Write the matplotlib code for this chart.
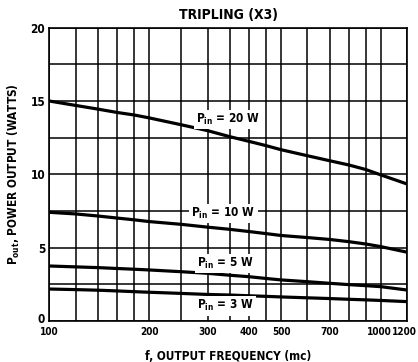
import matplotlib
matplotlib.use("Agg")
import matplotlib.pyplot as plt
import matplotlib.transforms as mtransforms
from matplotlib.ticker import FixedLocator, NullLocator, NullFormatter

plt.rcParams['font.family'] = ['DejaVu Sans']
plt.rcParams['font.stretch'] = 'condensed'
plt.rcParams['font.weight'] = 'bold'
plt.rcParams['axes.titleweight'] = 'bold'
plt.rcParams['axes.labelweight'] = 'bold'
plt.rcParams['mathtext.default'] = 'regular'

freq = [100, 120, 140, 160, 180, 200, 250, 300, 350, 400, 450, 500, 600, 700, 800, 900, 1000, 1200]
p20 = [15.0, 14.7, 14.45, 14.22, 14.05, 13.85, 13.38, 12.98, 12.57, 12.25, 11.96, 11.68, 11.27, 10.93, 10.64, 10.33, 9.96, 9.34]
p10 = [7.41, 7.3, 7.16, 7.02, 6.9, 6.78, 6.59, 6.4, 6.25, 6.1, 5.96, 5.83, 5.69, 5.56, 5.41, 5.25, 5.07, 4.69]
p5 = [3.75, 3.69, 3.64, 3.58, 3.53, 3.48, 3.36, 3.25, 3.12, 3.02, 2.9, 2.8, 2.68, 2.57, 2.48, 2.41, 2.34, 2.11]
p3 = [2.18, 2.14, 2.1, 2.05, 2.0, 1.96, 1.88, 1.81, 1.77, 1.72, 1.68, 1.64, 1.58, 1.53, 1.48, 1.44, 1.4, 1.32]

grid_x = [100, 120, 140, 160, 180, 200, 250, 300, 350, 400, 450, 500, 600, 700, 800, 900, 1000, 1200]
grid_y = [0, 2.5, 5, 7.5, 10, 12.5, 15, 17.5, 20]
xtick_vals = [100, 200, 300, 400, 500, 700, 1000, 1200]
xtick_labels = ['100', '200', '300', '400', '500', '700', '1000', '1200']
ytick_vals = [0, 5, 10, 15, 20]

labels = ['P$_{in}$ = 20 W', 'P$_{in}$ = 10 W', 'P$_{in}$ = 5 W', 'P$_{in}$ = 3 W']
label_pos = [(345, 13.75), (335, 7.35), (340, 3.9), (340, 1.03)]

fig = plt.figure(figsize=(4.18, 3.62), dpi=100)
ax = fig.add_axes([0.118, 0.1133, 0.856, 0.8102])
ax.set_xscale('log')
ax.set_xlim(100, 1200)
ax.set_ylim(0, 20)

for gx in grid_x:
    ax.axvline(gx, color='black', lw=1.1, zorder=1)
for gy in grid_y:
    ax.axhline(gy, color='black', lw=1.1, zorder=1)

for series in (p20, p10, p5, p3):
    ax.plot(freq, series, color='black', lw=2.3, zorder=3, solid_capstyle='butt')

for lab, (lx, ly) in zip(labels, label_pos):
    ax.text(lx, ly, lab, ha='center', va='center', fontsize=8.5, fontweight='bold',
            bbox=dict(facecolor='white', edgecolor='none', pad=1.5), zorder=4)

ax.xaxis.set_major_locator(FixedLocator(xtick_vals))
ax.set_xticklabels(xtick_labels)
ax.xaxis.set_minor_locator(NullLocator())
ax.xaxis.set_minor_formatter(NullFormatter())
ax.set_yticks(ytick_vals)
ax.tick_params(length=0, labelsize=8.5)
ax.tick_params(axis='x', pad=4, labelsize=7.2)
ax.tick_params(axis='y', pad=3)
for s in ax.spines.values():
    s.set_linewidth(1.2)

# nudge edge labels like the reference
xl = ax.get_xticklabels()
for lbl, dx in ((xl[-2], -2), (xl[-1], -3)):
    lbl.set_transform(lbl.get_transform() + mtransforms.ScaledTranslation(dx / 100, 0, fig.dpi_scale_trans))
ylab0 = ax.get_yticklabels()[0]
ylab0.set_transform(ylab0.get_transform() + mtransforms.ScaledTranslation(0, 3 / 100, fig.dpi_scale_trans))

ax.set_title('TRIPLING (X3)', fontsize=10, fontweight='bold', pad=6)
ax.set_xlabel('f, OUTPUT FREQUENCY (mc)', fontsize=8.5, fontweight='bold', labelpad=10)
ax.set_ylabel('P$_{out}$, POWER OUTPUT (WATTS)', fontsize=8.5, fontweight='bold', labelpad=6)

fig.savefig('out.png', dpi=100)
